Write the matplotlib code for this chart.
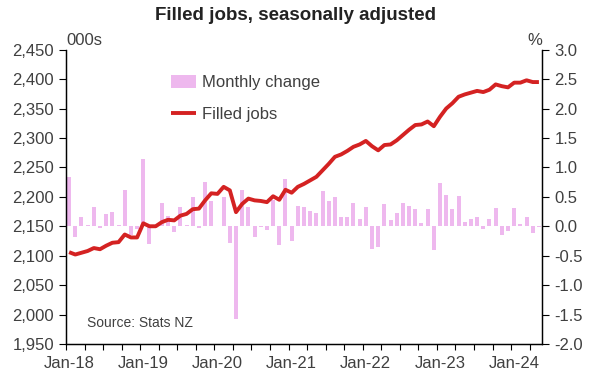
import pandas as pd
import matplotlib
matplotlib.use("Agg")
import matplotlib.pyplot as plt
from matplotlib.ticker import FuncFormatter, MultipleLocator, FixedLocator

plt.rcParams["font.family"] = ["Liberation Sans", "DejaVu Sans"]
plt.rcParams["axes.unicode_minus"] = False

# Monthly data, Jan-2018 to May-2024
months = pd.date_range("2018-01-01", periods=77, freq="MS")

# Filled jobs, 000s (left axis)
filled_jobs = [
    2106, 2102, 2105, 2108, 2113, 2111, 2117, 2122, 2123, 2136, 2131, 2131,
    2155, 2150, 2150, 2157, 2161, 2160, 2168, 2171, 2179, 2180, 2194, 2206,
    2205, 2217, 2211, 2174, 2188, 2197, 2194, 2193, 2191, 2201, 2195, 2212,
    2207, 2217, 2222, 2228, 2234, 2245, 2256, 2268, 2272, 2278, 2285, 2289,
    2295, 2286, 2279, 2288, 2289, 2296, 2305, 2314, 2322, 2323, 2328, 2320,
    2336, 2350, 2359, 2370, 2374, 2377, 2380, 2378, 2382, 2391, 2388, 2386,
    2394, 2394, 2398, 2395, 2395,
]

# Monthly change, % (right axis)
monthly_change = [
    0.83, -0.18, 0.15, 0.03, 0.32, -0.03, 0.21, 0.24, 0.03, 0.61, -0.15, -0.04,
    1.14, -0.30, -0.01, 0.40, 0.18, -0.09, 0.32, 0.02, 0.50, -0.03, 0.75, 0.43,
    0.01, 0.49, -0.28, -1.57, 0.61, 0.32, -0.19, -0.01, -0.07, 0.44, -0.31, 0.80,
    -0.25, 0.35, 0.32, 0.26, 0.23, 0.60, 0.43, 0.49, 0.15, 0.16, 0.39, 0.12,
    0.32, -0.38, -0.35, 0.37, 0.11, 0.23, 0.39, 0.35, 0.29, 0.05, 0.30, -0.40,
    0.74, 0.53, 0.30, 0.52, 0.07, 0.12, 0.16, -0.04, 0.12, 0.31, -0.14, -0.08,
    0.31, 0.04, 0.16, -0.11, -0.02,
]

tick_labels = ["Jan-18", "Jan-19", "Jan-20", "Jan-21", "Jan-22", "Jan-23", "Jan-24"]

text_col = "#404040"
x = list(range(len(months)))

fig = plt.figure(figsize=(5.91, 3.75), dpi=100)
ax = fig.add_axes([0.1117, 0.0827, 0.8054, 0.7848])
ax2 = ax.twinx()

# bars on the right axis, line on the left axis drawn on top
bars = ax2.bar(x, monthly_change, width=0.65, color="#EEB8EE", label="Monthly change")
line, = ax.plot(x, filled_jobs, color="#D42222", lw=2.8, label="Filled jobs",
                solid_capstyle="butt")
ax.set_zorder(ax2.get_zorder() + 1)
ax.patch.set_visible(False)

ax.set_xlim(-0.5, len(months) - 0.5)
ax.set_ylim(1950, 2450)
ax2.set_ylim(-2.0, 3.0)
ax.yaxis.set_major_locator(MultipleLocator(50))
ax2.yaxis.set_major_locator(MultipleLocator(0.5))
ax.yaxis.set_major_formatter(FuncFormatter(lambda v, p: f"{v:,.0f}"))
ax2.yaxis.set_major_formatter(FuncFormatter(lambda v, p: f"{v:.1f}"))

# quarter tick marks, year labels at Jan
year_pos = [months.get_loc(pd.Timestamp(f"20{lab[-2:]}-01-01")) for lab in tick_labels]
ax.xaxis.set_minor_locator(FixedLocator([q - 0.5 for q in range(0, len(months), 3)]))
ax.set_xticks(year_pos)
ax.set_xticklabels(tick_labels)
ax.tick_params(axis="x", which="major", length=0, pad=9)
ax.tick_params(axis="x", which="minor", length=4, width=0.8, direction="out")

for a in (ax, ax2):
    a.tick_params(axis="y", length=5, width=0.8, direction="out", colors="black",
                  labelcolor=text_col, labelsize=12)
    a.tick_params(axis="x", labelcolor=text_col, labelsize=12)
    a.spines["top"].set_visible(False)
    for s in ("left", "right", "bottom"):
        a.spines[s].set_linewidth(0.9)
ax2.tick_params(axis="y", pad=4)

ax.legend([bars, line], ["Monthly change", "Filled jobs"], loc="upper left",
          bbox_to_anchor=(0.189, 0.965), frameon=False, fontsize=12,
          labelcolor=text_col, handlelength=1.5, handleheight=0.8,
          labelspacing=1.0, handletextpad=0.35)

fig.text(0.5, 0.958, "Filled jobs, seasonally adjusted", ha="center", va="center",
         fontsize=13.5, fontweight="bold", color="#222222")
fig.text(0.112, 0.893, "000s", ha="left", va="center", fontsize=12, color=text_col)
fig.text(0.905, 0.893, "%", ha="center", va="center", fontsize=12, color=text_col)
ax.text(0.045, 0.07, "Source: Stats NZ", transform=ax.transAxes, fontsize=10,
        color=text_col, ha="left", va="center")

fig.savefig("out.png", dpi=100)
